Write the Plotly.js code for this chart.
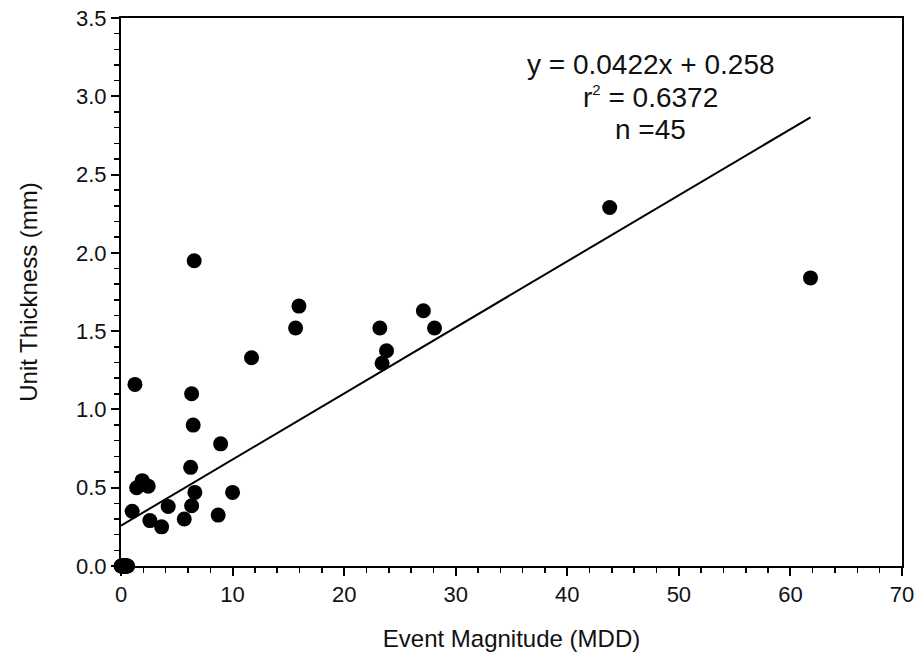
<!DOCTYPE html>
<html>
<head>
<meta charset="utf-8">
<script src="https://cdn.plot.ly/plotly-3.0.1.min.js"></script>
<style>html,body{margin:0;padding:0;background:#fff;}#chart{width:920px;height:666px;}</style>
</head>
<body>
<div id="chart"></div>
<script>
// Event magnitude (MDD) values
const magnitude = [
  0.0, 0.05, 0.1, 0.15, 0.2, 0.25, 0.3, 0.35, 0.4, 0.45, 0.5, 0.55, 0.6, 0.2, 0.3, 0.4, 0.5,
  1.0, 1.25, 1.4, 1.9, 2.44, 2.59, 3.64, 4.23, 5.67, 6.24, 6.33, 6.33, 6.47, 6.56, 6.62,
  8.71, 8.93, 10.0, 11.7, 15.65, 15.95, 23.2, 23.4, 23.8, 27.1, 28.1, 43.8, 61.8
];
// Unit thickness (mm) values
const thickness = [
  0, 0, 0, 0, 0, 0, 0, 0, 0, 0, 0, 0, 0, 0, 0, 0, 0,
  0.35, 1.16, 0.50, 0.545, 0.51, 0.29, 0.25, 0.38, 0.30, 0.63, 1.10, 0.385, 0.90, 1.95, 0.47,
  0.325, 0.78, 0.47, 1.33, 1.52, 1.66, 1.52, 1.295, 1.375, 1.63, 1.52, 2.29, 1.84
];
// Regression parameters
const slope = 0.0422;
const intercept = 0.258;
const fitRange = [0, 61.8];
const fitY = fitRange.map(x => slope * x + intercept);
const statLines = ["y = 0.0422x + 0.258", "r<sup><span style=\"font-size:15px\">2</span></sup> = 0.6372", "n =45"];
const statLineY = [3.20, 2.995, 2.79];

const font = "Liberation Sans, Arial, sans-serif";
const ink = "#111";

const traces = [
  {
    x: fitRange, y: fitY, type: "scatter", mode: "lines",
    line: {color: "#000", width: 2}, hoverinfo: "skip"
  },
  {
    x: magnitude, y: thickness, type: "scatter", mode: "markers",
    marker: {color: "#000", size: 15}, cliponaxis: false
  }
];

const axisCommon = {
  showgrid: false, zeroline: false, showline: true, linecolor: "#000", linewidth: 2,
  mirror: true, ticks: "outside", ticklen: 8, tickwidth: 2, tickcolor: "#000",
  tickfont: {family: font, size: 22, color: ink}
};

const layout = {
  width: 920, height: 666,
  margin: {l: 121, r: 18, t: 18, b: 100},
  paper_bgcolor: "#fff", plot_bgcolor: "#fff",
  showlegend: false,
  xaxis: Object.assign({}, axisCommon, {
    range: [0, 70], dtick: 10, tick0: 0,
    minor: {dtick: 2, ticks: "outside", ticklen: 5, tickwidth: 1.5, tickcolor: "#000"},
    title: {text: "Event Magnitude (MDD)", font: {family: font, size: 24, color: ink}, standoff: 24}
  }),
  yaxis: Object.assign({}, axisCommon, {
    range: [0, 3.5], dtick: 0.5, tick0: 0, tickformat: ".1f",
    minor: {dtick: 0.1, ticks: "outside", ticklen: 5, tickwidth: 1.5, tickcolor: "#000"},
    title: {text: "Unit Thickness (mm)", font: {family: font, size: 24, color: ink}, standoff: 32}
  }),
  annotations: statLines.map((t, i) => ({
    x: 47.5, y: statLineY[i], xref: "x", yref: "y", showarrow: false,
    text: t, align: "center",
    font: {family: font, size: 28, color: ink}
  }))
};

Plotly.newPlot("chart", traces, layout, {displayModeBar: false, staticPlot: true});
</script>
</body>
</html>
